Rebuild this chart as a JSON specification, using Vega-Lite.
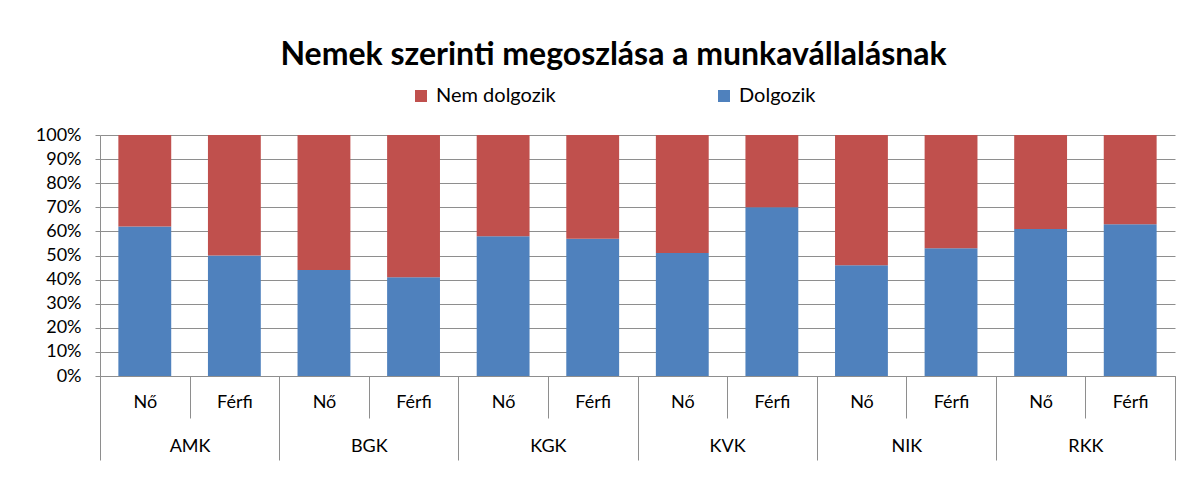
{
  "$schema": "https://vega.github.io/schema/vega-lite/v6.json",
  "width": 1075,
  "height": 241,
  "autosize": {"type": "none"},
  "padding": {"left": 100, "top": 135, "right": 27, "bottom": 102},
  "background": "white",
  "title": {
    "text": "Nemek szerinti megoszlása a munkavállalásnak",
    "font": "Lato",
    "fontSize": 32,
    "fontWeight": "bold",
    "color": "black",
    "anchor": "middle",
    "dx": -24,
    "offset": 14
  },
  "config": {
    "view": {"stroke": null},
    "font": "Lato"
  },
  "data": {
    "values": [
      {"faculty": "AMK", "gender": "Nő", "key": "AMK-Nő", "status": "Dolgozik", "value": 0.62},
      {"faculty": "AMK", "gender": "Nő", "key": "AMK-Nő", "status": "Nem dolgozik", "value": 0.38},
      {"faculty": "AMK", "gender": "Férfi", "key": "AMK-Férfi", "status": "Dolgozik", "value": 0.50},
      {"faculty": "AMK", "gender": "Férfi", "key": "AMK-Férfi", "status": "Nem dolgozik", "value": 0.50},
      {"faculty": "BGK", "gender": "Nő", "key": "BGK-Nő", "status": "Dolgozik", "value": 0.44},
      {"faculty": "BGK", "gender": "Nő", "key": "BGK-Nő", "status": "Nem dolgozik", "value": 0.56},
      {"faculty": "BGK", "gender": "Férfi", "key": "BGK-Férfi", "status": "Dolgozik", "value": 0.41},
      {"faculty": "BGK", "gender": "Férfi", "key": "BGK-Férfi", "status": "Nem dolgozik", "value": 0.59},
      {"faculty": "KGK", "gender": "Nő", "key": "KGK-Nő", "status": "Dolgozik", "value": 0.58},
      {"faculty": "KGK", "gender": "Nő", "key": "KGK-Nő", "status": "Nem dolgozik", "value": 0.42},
      {"faculty": "KGK", "gender": "Férfi", "key": "KGK-Férfi", "status": "Dolgozik", "value": 0.57},
      {"faculty": "KGK", "gender": "Férfi", "key": "KGK-Férfi", "status": "Nem dolgozik", "value": 0.43},
      {"faculty": "KVK", "gender": "Nő", "key": "KVK-Nő", "status": "Dolgozik", "value": 0.51},
      {"faculty": "KVK", "gender": "Nő", "key": "KVK-Nő", "status": "Nem dolgozik", "value": 0.49},
      {"faculty": "KVK", "gender": "Férfi", "key": "KVK-Férfi", "status": "Dolgozik", "value": 0.70},
      {"faculty": "KVK", "gender": "Férfi", "key": "KVK-Férfi", "status": "Nem dolgozik", "value": 0.30},
      {"faculty": "NIK", "gender": "Nő", "key": "NIK-Nő", "status": "Dolgozik", "value": 0.46},
      {"faculty": "NIK", "gender": "Nő", "key": "NIK-Nő", "status": "Nem dolgozik", "value": 0.54},
      {"faculty": "NIK", "gender": "Férfi", "key": "NIK-Férfi", "status": "Dolgozik", "value": 0.53},
      {"faculty": "NIK", "gender": "Férfi", "key": "NIK-Férfi", "status": "Nem dolgozik", "value": 0.47},
      {"faculty": "RKK", "gender": "Nő", "key": "RKK-Nő", "status": "Dolgozik", "value": 0.61},
      {"faculty": "RKK", "gender": "Nő", "key": "RKK-Nő", "status": "Nem dolgozik", "value": 0.39},
      {"faculty": "RKK", "gender": "Férfi", "key": "RKK-Férfi", "status": "Dolgozik", "value": 0.63},
      {"faculty": "RKK", "gender": "Férfi", "key": "RKK-Férfi", "status": "Nem dolgozik", "value": 0.37}
    ]
  },
  "layer": [
    {
      "mark": {"type": "bar", "width": {"band": 0.59}},
      "encoding": {
        "x": {
          "field": "key",
          "type": "nominal",
          "sort": null,
          "scale": {"paddingInner": 0, "paddingOuter": 0},
          "axis": {
            "orient": "bottom",
            "title": null,
            "labelAngle": 0,
            "labelExpr": "split(datum.label, '-')[1]",
            "labelFont": "Lato",
            "labelFontSize": 18,
            "labelColor": "black",
            "tickBand": "extent",
            "tickSize": 42,
            "tickColor": "#8E8E8E",
            "domainColor": "#8E8E8E",
            "labelPadding": -25,
            "grid": false
          }
        },
        "y": {
          "field": "value",
          "type": "quantitative",
          "stack": "zero",
          "scale": {"domain": [0, 1]},
          "axis": {
            "title": null,
            "format": ".0%",
            "values": [0, 0.1, 0.2, 0.3, 0.4, 0.5, 0.6, 0.7, 0.8, 0.9, 1],
            "labelOverlap": false,
            "labelFont": "Lato",
            "labelFontSize": 18,
            "labelColor": "black",
            "tickSize": 5,
            "tickColor": "#8E8E8E",
            "domainColor": "#8E8E8E",
            "gridColor": "#8E8E8E",
            "labelPadding": 14
          }
        },
        "color": {
          "field": "status",
          "type": "nominal",
          "scale": {"domain": ["Nem dolgozik", "Dolgozik"], "range": ["#C0504D", "#4F81BD"]},
          "legend": {
            "title": null,
            "orient": "none",
            "direction": "horizontal",
            "legendX": 311,
            "legendY": -49,
            "padding": 0,
            "symbolType": "square",
            "symbolSize": 144,
            "symbolStrokeWidth": 0,
            "labelFont": "Lato",
            "labelFontSize": 20,
            "labelColor": "black",
            "labelOffset": 5,
            "columnPadding": 158
          }
        },
        "order": {"field": "status", "sort": "ascending"}
      }
    },
    {
      "mark": {"type": "tick", "opacity": 0},
      "encoding": {
        "x": {
          "field": "faculty",
          "type": "nominal",
          "sort": null,
          "scale": {"paddingInner": 0, "paddingOuter": 0},
          "axis": {
            "orient": "bottom",
            "title": null,
            "labelAngle": 0,
            "labelFont": "Lato",
            "labelFontSize": 18,
            "labelColor": "black",
            "tickBand": "extent",
            "tickSize": 84,
            "tickColor": "#8E8E8E",
            "domain": false,
            "labelPadding": -23,
            "grid": false
          }
        },
        "y": {
          "datum": 0,
          "type": "quantitative",
          "axis": {
            "title": null,
            "format": ".0%",
            "values": [0, 0.1, 0.2, 0.3, 0.4, 0.5, 0.6, 0.7, 0.8, 0.9, 1],
            "labelOverlap": false,
            "labelFont": "Lato",
            "labelFontSize": 18,
            "labelColor": "black",
            "tickSize": 5,
            "tickColor": "#8E8E8E",
            "domainColor": "#8E8E8E",
            "gridColor": "#8E8E8E",
            "labelPadding": 14
          }
        }
      }
    }
  ],
  "resolve": {"scale": {"x": "independent"}, "axis": {"x": "independent"}}
}
